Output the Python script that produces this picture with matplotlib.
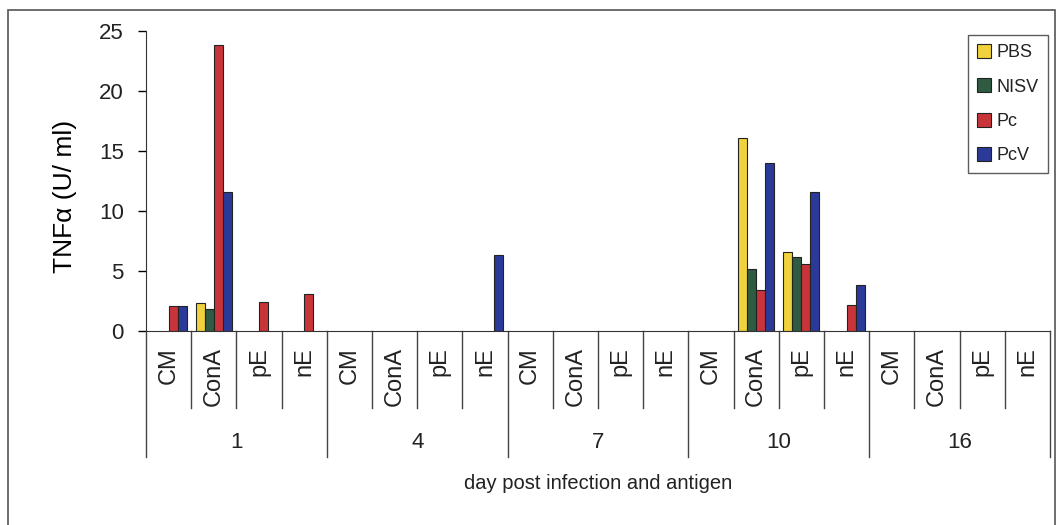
import numpy as np
import matplotlib
matplotlib.use("Agg")
import matplotlib.pyplot as plt
import matplotlib.transforms as mtransforms
from matplotlib.patches import Rectangle

plt.rcParams['font.family'] = ['Liberation Sans', 'DejaVu Sans']
plt.rcParams['text.color'] = '#222222'

# data
days = ['1', '4', '7', '10', '16']
antigens = ['CM', 'ConA', 'pE', 'nE']
series = ['PBS', 'NISV', 'Pc', 'PcV']

pbs = [0, 2.3, 0, 0,   0, 0, 0, 0,   0, 0, 0, 0,   0, 16.1, 6.6, 0,   0, 0, 0, 0]
nisv = [0, 1.8, 0, 0,  0, 0, 0, 0,   0, 0, 0, 0,   0, 5.2, 6.2, 0,    0, 0, 0, 0]
pc = [2.1, 23.8, 2.45, 3.1,  0, 0, 0, 0,  0, 0, 0, 0,  0, 3.4, 5.6, 2.2,  0, 0, 0, 0]
pcv = [2.1, 11.6, 0, 0,  0, 0, 0, 6.3,  0, 0, 0, 0,  0, 14.0, 11.6, 3.8,  0, 0, 0, 0]

colors = ['#f0d23c', '#2f5b42', '#c9343b', '#2b3a98']

fig = plt.figure(figsize=(10.58, 5.25), dpi=100)
ax = fig.add_axes([146 / 1058, 1 - 331 / 525, (1050 - 146) / 1058, 300 / 525])

# outer frame of the chart
fig.patches.append(Rectangle((8 / 1058, -0.05), (1055 - 8) / 1058, 1 - 10 / 525 + 0.05,
                             transform=fig.transFigure, fill=False,
                             edgecolor='#555555', linewidth=1.2))

n_cat = len(days) * len(antigens)
x = np.arange(n_cat)
width = 0.2
for i, (name, vals) in enumerate(zip(series, [pbs, nisv, pc, pcv])):
    vals = np.array(vals, dtype=float)
    mask = vals > 0
    xs = x[mask] + (i - 1.5) * width
    ax.bar(xs, vals[mask], width=width, color=colors[i], edgecolor='#222222',
           linewidth=0.8, label=name)

ax.set_xlim(-0.5, n_cat - 0.5)
ax.set_ylim(0, 25)
ax.set_yticks([0, 5, 10, 15, 20, 25])
ax.tick_params(axis='y', direction='out', length=6, width=1, labelsize=16,
               pad=10, labelcolor='#222222')
ax.set_xticks([])
for s in ['top', 'right']:
    ax.spines[s].set_visible(False)
ax.spines['left'].set_color('#333333')
ax.spines['bottom'].set_color('#333333')
ax.set_ylabel('TNF\u03b1 (U/ ml)', fontsize=19)
ax.yaxis.set_label_coords(-0.076, 0.45)

# multi-level category axis
trans = mtransforms.blended_transform_factory(ax.transData, ax.transAxes)
for k in range(n_cat + 1):
    xpos = k - 0.5
    bottom = -0.42 if k % 4 == 0 else -0.257
    ax.plot([xpos, xpos], [0, bottom], transform=trans, color='#444444',
            linewidth=1, clip_on=False)
for k in range(n_cat):
    ax.text(k, -0.055, antigens[k % 4], transform=trans, rotation=90,
            ha='center', va='top', fontsize=17)
for d, day in enumerate(days):
    ax.text(d * 4 + 1.5, -0.37, day, transform=trans, ha='center',
            va='center', fontsize=16)
ax.text(0.5, -0.507, 'day post infection and antigen', transform=ax.transAxes,
        ha='center', va='center', fontsize=14.5)

leg = fig.legend(loc='upper right', bbox_to_anchor=(1048 / 1058, 1 - 35 / 525),
                 fontsize=13, frameon=True, fancybox=False, handlelength=0.8,
                 handleheight=0.8, handletextpad=0.3, labelspacing=0.95,
                 borderpad=0.5, borderaxespad=0)
leg.get_frame().set_edgecolor('#333333')
leg.get_frame().set_linewidth(1)

fig.savefig('out.png', dpi=100)
